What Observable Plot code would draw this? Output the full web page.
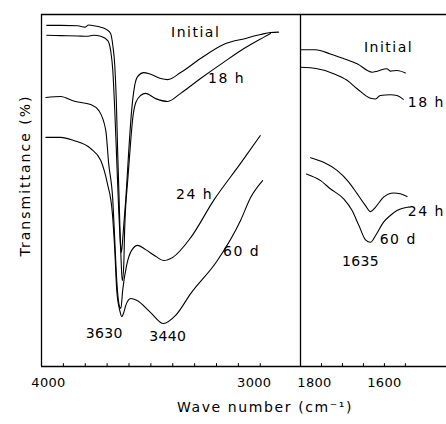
<!DOCTYPE html>
<html><head><meta charset="utf-8">
<script src="https://cdn.jsdelivr.net/npm/d3@7"></script>
<script src="https://cdn.jsdelivr.net/npm/@observablehq/plot@0.6"></script>
<style>
html,body{margin:0;padding:0;background:#fff;}
#chart{position:relative;width:446px;height:424px;background:#fff;}
#chart svg{position:absolute;top:0;display:block;overflow:visible;}
</style></head><body><div id="chart"></div>
<script>
// ---- data: [wavenumber (cm-1), transmittance (arbitrary %)] ----
const leftInitial = [[3976,96.9],[3912,96.9],[3834,96.8],[3802,96.4],[3784,97.0],[3761,96.8],[3729,96.4],[3702,95.7],[3684,94.6],[3674,91.2],[3665,85.5],[3658,75.6],[3652,61.4],[3645,47.2],[3639,35.0],[3635,32.4],[3629,36.0],[3624,40.1],[3615,47.2],[3601,61.4],[3588,72.7],[3574,79.8],[3560,82.4],[3533,83.5],[3501,83.0],[3455,81.8],[3423,81.5],[3364,83.5],[3273,87.5],[3168,91.5],[3067,93.2],[2999,94.3],[2953,94.9],[2916,95.0]];
const left18h = [[3976,94.1],[3912,94.0],[3834,93.9],[3793,93.8],[3761,94.1],[3729,93.8],[3697,92.6],[3684,89.8],[3674,84.1],[3665,72.7],[3656,58.5],[3647,44.3],[3638,33.0],[3631,24.4],[3624,28.7],[3620,38.6],[3606,52.8],[3592,64.2],[3583,70.5],[3569,75.0],[3547,77.0],[3524,77.6],[3478,76.1],[3423,75.3],[3364,77.6],[3273,81.8],[3168,86.4],[3067,90.6],[2985,93.5],[2953,94.6]];
const left24h = [[3980,76.4],[3912,76.7],[3853,75.4],[3775,74.4],[3738,72.7],[3706,67.0],[3693,57.7],[3674,47.2],[3665,35.8],[3656,24.4],[3642,16.8],[3637,16.5],[3629,21.6],[3611,28.7],[3588,33.0],[3560,34.4],[3524,33.2],[3478,31.3],[3442,30.1],[3400,31.0],[3318,36.6],[3213,47.2],[3090,57.7],[3000,65.6]];
const left60d = [[3980,65.1],[3912,65.1],[3853,64.2],[3775,61.9],[3729,58.5],[3699,52.0],[3676,43.5],[3665,33.0],[3656,21.6],[3642,15.9],[3633,14.2],[3624,15.3],[3615,17.3],[3592,19.3],[3565,18.8],[3501,15.3],[3442,12.2],[3387,14.5],[3318,20.7],[3196,30.1],[3090,41.5],[3044,48.0],[2989,52.8]];
const rightInitial = [[1800,90.0],[1764,90.0],[1729,88.8],[1698,87.5],[1665,86.0],[1629,83.6],[1617,83.9],[1594,84.6],[1586,83.9],[1570,84.1],[1550,83.4]];
const right18h = [[1800,85.0],[1760,84.6],[1721,83.2],[1689,81.3],[1665,78.9],[1633,76.2],[1621,76.0],[1610,77.0],[1586,77.2],[1570,77.0],[1555,75.9]];
const right24h = [[1776,59.3],[1745,58.0],[1713,55.7],[1685,52.4],[1665,49.1],[1645,45.7],[1633,44.0],[1621,45.3],[1602,48.1],[1578,49.3],[1562,49.1],[1546,48.3]];
const right60d = [[1786,54.7],[1752,52.8],[1729,50.5],[1697,47.6],[1677,44.3],[1661,40.1],[1645,36.0],[1633,35.3],[1621,37.2],[1602,41.0],[1586,42.9],[1570,44.3],[1542,45.3]];

const curveNames = ["Initial", "18 h", "24 h", "60 d"];
const leftCurves = [leftInitial, left18h, left24h, left60d];
const rightCurves = [rightInitial, right18h, right24h, right60d];

// labels anchored in data space: [text, wavenumber, transmittance]
const leftLabels = [["Initial",3295,95.0],["18 h",3154,81.8],["24 h",3300,48.9],["60 d",3085,32.7],["3630",3713,9.4],["3440",3423,8.4]];
const rightLabels = [["Initial",1590,90.6],["18 h",1500,75.0],["24 h",1500,43.9],["60 d",1567,36.1],["1635",1657,29.7]];

const leftDomain = [4000, 2816];
const rightDomain = [1800, 1452];
const leftTicks = [3900,3800,3700,3600,3500,3400,3300,3200,3100,3000];
const rightTicks = [1750,1700,1650,1600,1550];
const leftTickLabels = [4000, 3000];
const rightTickLabels = [1800, 1600];
const xTitle = "Wave number (cm\u207B\u00B9)";
const yTitle = "Transmittance (%)";

// ---- build tables ----
const toRows = curves => curves.flatMap((c, i) => c.map(([w, t]) => ({id: curveNames[i], w, t})));
const toLabels = arr => arr.map(([text, w, t]) => ({text, w, t}));
const nudge = {4000: 7, 3000: -6, 1800: 14, 1600: 0};

const font = "DejaVu Sans";
const H = 424, MT = 14, MB = 58;
const common = (domain) => ({
  height: H, marginTop: MT, marginBottom: MB,
  style: {fontFamily: font, background: "transparent", color: "#000", overflow: "visible"},
  x: {domain, axis: null},
  y: {domain: [0, 100], axis: null}
});
const panelMarks = (curves, labels, ticks, tickLabels) => [
  Plot.ruleY([0, 100], {stroke: "#000", strokeWidth: 1.3}),
  Plot.ruleX(ticks, {y1: 0, y2: 0.8, stroke: "#000", strokeWidth: 1}),
  Plot.line(toRows(curves), {x: "w", y: "t", z: "id", stroke: "#000", strokeWidth: 1.1, curve: "monotone-x"}),
  Plot.text(toLabels(labels), {x: "w", y: "t", text: "text", fontSize: 14, fill: "#000"}),
  ...tickLabels.map(v => Plot.text([v], {x: d => d, text: d => String(d), frameAnchor: "bottom", dy: 20, dx: nudge[v], fontSize: 13, fill: "#000"}))
];

const left = Plot.plot({
  ...common(leftDomain),
  width: 300, marginLeft: 41, marginRight: 0,
  marks: [
    ...panelMarks(leftCurves, leftLabels, leftTicks, leftTickLabels),
    Plot.ruleX([leftDomain[0]], {stroke: "#000", strokeWidth: 1.3}),
    Plot.text([xTitle], {text: d => d, frameAnchor: "bottom", dx: 94, dy: 45, fontSize: 14, fill: "#000"}),
    Plot.text([yTitle], {text: d => d, frameAnchor: "left", textAnchor: "middle", rotate: -90, dx: -16, dy: -15, fontSize: 14, fill: "#000"})
  ]
});
const right = Plot.plot({
  ...common(rightDomain),
  width: 146, marginLeft: 0, marginRight: 0,
  marks: [
    ...panelMarks(rightCurves, rightLabels, rightTicks, rightTickLabels),
    Plot.ruleX([rightDomain[0]], {stroke: "#000", strokeWidth: 1.3})
  ]
});
right.style.left = "300px";
left.style.left = "0px";
const chart = document.getElementById("chart");
chart.appendChild(left);
chart.appendChild(right);

// letter spacing like the original lettering
const spacing = t => t === xTitle ? "1.6px" : t === yTitle ? "2px" : /^\d{4}$/.test(t) ? "0.3px" : "1.5px";
d3.select(chart).selectAll("text").each(function () {
  this.style.letterSpacing = spacing(this.textContent);
});
</script>
</body></html>
